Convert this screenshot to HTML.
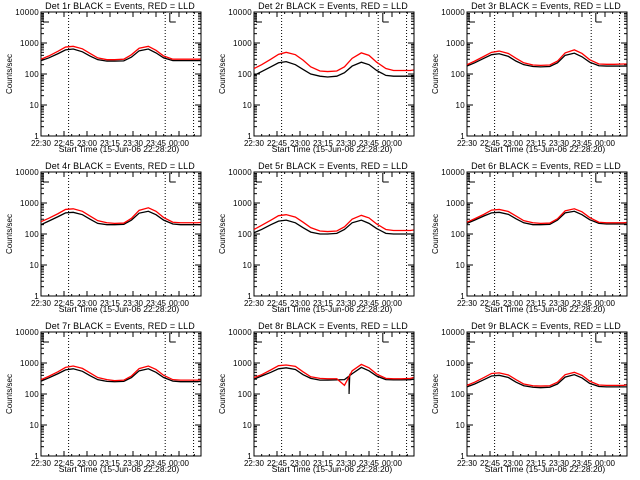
<!DOCTYPE html>
<html><head><meta charset="utf-8"><style>
body{margin:0;background:#fff}
svg{display:block}
text{font-family:"Liberation Sans",sans-serif;fill:#000}
</style></head><body>
<svg id="c" width="640" height="480"></svg>
<script>
const titles=["Det 1r","Det 2r","Det 3r","Det 4r","Det 5r","Det 6r","Det 7r","Det 8r","Det 9r"];
const tickLabels=["22:30","22:45","23:00","23:15","23:30","23:45","00:00"];
const yTicks=[1,10,100,1000,10000];
const yTickLabels=["1","10","100","1000","10000"];
const times=[0,5,11,16,21,27,32,37,43,48,54,59,64,70,75,80,86,91,96,102,104];
const dotted=[18,81,99.5];
const black=[
[270,330,450,600,640,520,380,290,260,260,265,350,560,640,480,330,270,270,270,270,270],
[90,120,170,230,250,200,140,100,85,80,85,110,180,240,200,130,90,85,85,85,85],
[180,230,320,420,450,370,260,200,175,170,175,230,400,470,360,240,185,180,180,180,180],
[200,260,360,480,500,420,300,220,200,200,205,280,470,540,420,280,210,200,200,200,200],
[110,140,200,260,280,230,160,115,100,100,105,140,230,280,220,150,105,100,100,100,100],
[220,280,380,480,500,430,310,230,200,200,205,280,480,540,420,290,220,210,210,210,210],
[260,330,450,600,650,540,390,290,255,250,255,340,560,650,500,340,260,250,250,250,255],
[300,380,500,650,700,620,420,320,280,280,285,290,450,720,560,380,290,285,285,290,300],
[170,210,290,380,400,340,240,185,165,160,165,210,350,420,330,220,175,170,170,170,170]];
const red=[
[300,380,540,740,780,650,460,330,290,290,300,420,680,780,580,380,300,300,300,300,305],
[150,200,300,430,500,420,280,170,125,120,125,170,320,480,400,240,150,130,130,130,135],
[200,260,370,500,550,460,320,230,195,190,195,260,480,600,460,290,210,205,205,210,210],
[250,320,450,620,650,540,380,270,230,220,225,320,580,700,540,340,240,230,230,230,235],
[140,190,280,390,420,350,240,160,125,120,125,170,300,400,330,210,140,130,130,130,135],
[240,310,430,590,620,530,380,270,230,220,225,310,560,650,520,340,240,230,230,230,235],
[290,370,520,720,800,670,480,340,290,270,280,380,660,800,620,400,290,280,280,280,285],
[340,420,600,820,860,780,520,360,320,310,310,190,560,900,700,440,320,310,310,320,340],
[190,240,340,460,480,410,290,210,185,180,185,240,420,500,400,260,195,190,190,190,195]];
const spikeTimes=[62,62,62.5];
const spikeVals=[330,100,450];
const svg=document.getElementById('c');const NS='http://www.w3.org/2000/svg';
function mk(t,a,p,txt){const e=document.createElementNS(NS,t);for(const k in a)e.setAttribute(k,a[k]);if(txt!=null)e.textContent=txt;p.appendChild(e);return e;}
for(let i=0;i<9;i++){
 const ox=(i%3)*213,oy=Math.floor(i/3)*160;
 const L=ox+41,R=ox+201,T=oy+12,B=oy+136;
 const xs=t=>L+t*23/15, ys=v=>B-Math.log10(v)*31;
 const g=mk('g',{},svg);
 
 
 const tt=mk('text',{x:ox+120,y:oy+9,'text-anchor':'middle','font-size':'9','letter-spacing':'0.15'},g,titles[i]+" BLACK = Events, RED = LLD");
 
 
 const fr=mk('rect',{x:L,y:T,width:R-L,height:B-T,fill:'none',stroke:'#000','stroke-width':1},g);
 
 
 yTicks.forEach((v,j)=>{const y=ys(v);
  mk('line',{x1:L,x2:L+6,y1:y,y2:y,stroke:'#000'},g);mk('line',{x1:R,x2:R-6,y1:y,y2:y,stroke:'#000'},g);
  const yl=mk('text',{x:L-2,y:y+3,'text-anchor':'end','font-size':'8','letter-spacing':'0.3'},g,yTickLabels[j]);
  
  
  if(j<4)for(let m=2;m<10;m++){const yy=ys(v*m);mk('line',{x1:L,x2:L+3,y1:yy,y2:yy,stroke:'#000'},g);mk('line',{x1:R,x2:R-3,y1:yy,y2:yy,stroke:'#000'},g);}
 });
 tickLabels.forEach((s,j)=>{const x=xs(j*15);
  mk('line',{x1:x,x2:x,y1:B,y2:B-5,stroke:'#000'},g);mk('line',{x1:x,x2:x,y1:T,y2:T+5,stroke:'#000'},g);
  const xl=mk('text',{x:x,y:B+10,'text-anchor':'middle','font-size':'8'},g,s);
  
  
 });
 for(let m=0;m<=104;m+=5){const x=xs(m);mk('line',{x1:x,x2:x,y1:B,y2:B-2,stroke:'#000'},g);mk('line',{x1:x,x2:x,y1:T,y2:T+2,stroke:'#000'},g);}
 const xt=mk('text',{x:ox+119,y:oy+152,'text-anchor':'middle','font-size':'8.5'},g,"Start Time (15-Jun-06 22:28:20)");
 
 
 const yt=mk('text',{x:0,y:0,'text-anchor':'middle','font-size':'8',transform:`translate(${ox+12},${oy+74}) rotate(-90)`},g,"Counts/sec");
 
 
 dotted.forEach(t=>{const dl=mk('line',{x1:xs(t),x2:xs(t),y1:T,y2:B,stroke:'#000','stroke-dasharray':'1,2'},g);
  
  });
 mk('path',{d:`M${L+2} ${T+10}V${T+1}M${L+2} ${T+10}H${L+8}`,stroke:'#000',fill:'none'},g);
 mk('path',{d:`M${xs(84)} ${T+10}V${T+1}M${xs(84)} ${T+10}H${xs(84)+6}`,stroke:'#000',fill:'none'},g);
 const pb=mk('polyline',{points:times.map((t,k)=>xs(t)+','+ys(black[i][k])).join(' '),fill:'none',stroke:'#000','stroke-width':1.3},g);
 
 
 if(i===7){
  const sp=mk('polyline',{points:spikeTimes.map((t,k)=>xs(t)+','+ys(spikeVals[k])).join(' '),fill:'none',stroke:'#000','stroke-width':1.2},g);
  
  
 }
 const pr=mk('polyline',{points:times.map((t,k)=>xs(t)+','+ys(red[i][k])).join(' '),fill:'none',stroke:'#f00','stroke-width':1.3},g);
 
 
}
</script></body></html>
